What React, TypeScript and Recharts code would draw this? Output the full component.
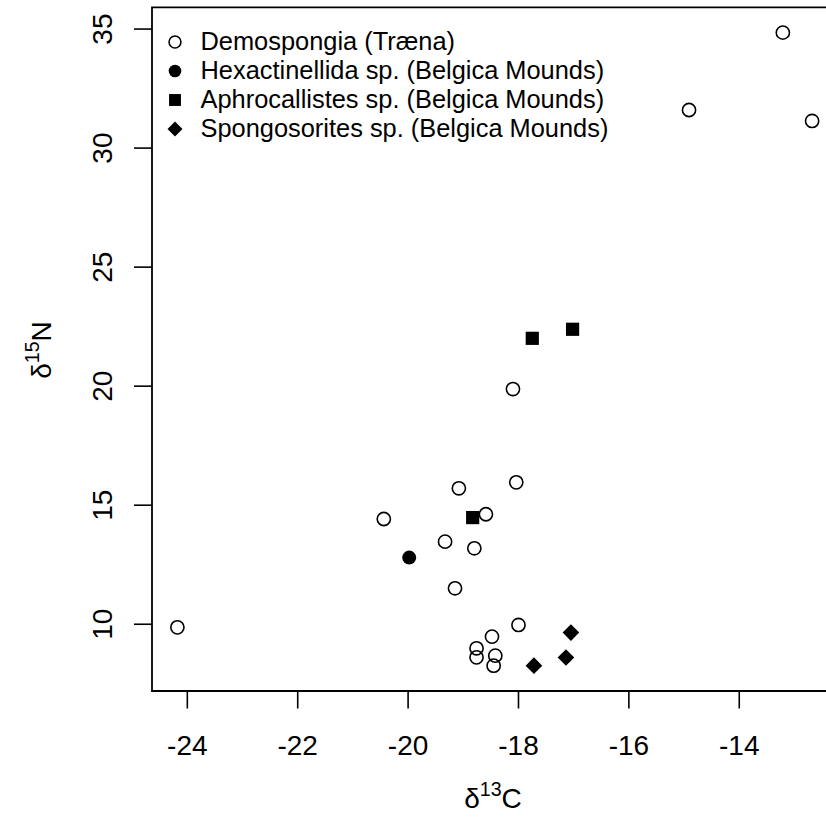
import { ScatterChart, Scatter, XAxis, YAxis, ReferenceArea } from 'recharts'

const FONT = '"Liberation Sans", Arial, Helvetica, sans-serif'

// δ13C / δ15N readings per group
const demoX = [-24.18, -20.44, -19.33, -19.08, -18.59, -18.8, -19.15, -18.1, -18.04, -18.0, -18.48, -18.76, -18.76, -18.42, -18.45, -13.21, -14.91, -12.68]
const demoY = [9.87, 14.42, 13.47, 15.71, 14.62, 13.19, 11.51, 19.88, 15.96, 9.97, 9.48, 8.99, 8.61, 8.68, 8.26, 34.85, 31.6, 31.14]
const hexaX = [-19.98]
const hexaY = [12.8]
const aphroX = [-17.75, -17.02, -18.83]
const aphroY = [22.01, 22.39, 14.48]
const spongoX = [-17.05, -17.14, -17.72]
const spongoY = [9.65, 8.6, 8.26]

const xTicks = [-24, -22, -20, -18, -16, -14]
const yTicks = [10, 15, 20, 25, 30, 35]
const X_DOMAIN: [number, number] = [-24.64, -12.22]
const Y_DOMAIN: [number, number] = [7.196, 35.914]

const legendLabels = [
  'Demospongia (Træna)',
  'Hexactinellida sp. (Belgica Mounds)',
  'Aphrocallistes sp. (Belgica Mounds)',
  'Spongosorites sp. (Belgica Mounds)',
]

const toPoints = (xs: number[], ys: number[]) => xs.map((x, i) => ({ x, y: ys[i] }))

type Kind = 'open' | 'dot' | 'square' | 'diamond'

function Marker({ kind, cx, cy, scale = 1 }: { kind: Kind; cx: number; cy: number; scale?: number }) {
  if (kind === 'open') return <circle cx={cx} cy={cy} r={6.6 * scale} fill="none" stroke="#000" strokeWidth={1.6} />
  if (kind === 'dot') return <circle cx={cx} cy={cy} r={7 * scale} fill="#000" />
  if (kind === 'square') {
    const h = 6.6 * scale
    return <rect x={cx - h} y={cy - h} width={2 * h} height={2 * h} fill="#000" />
  }
  const d = 8.3 * scale
  return <polygon points={`${cx},${cy - d} ${cx + d},${cy} ${cx},${cy + d} ${cx - d},${cy}`} fill="#000" />
}

const shapeOf = (kind: Kind) => (props: any) => <Marker kind={kind} cx={props.cx} cy={props.cy} />

const XTick = ({ x, payload }: any) => (
  <text x={x} y={755} textAnchor="middle" fontSize={28} fontFamily={FONT} fill="#000">
    {payload.value}
  </text>
)

const YTick = ({ y, payload }: any) => (
  <text transform={`translate(111.7, ${y}) rotate(-90)`} textAnchor="middle" fontSize={28} fontFamily={FONT} fill="#000">
    {payload.value}
  </text>
)

const kinds: Kind[] = ['open', 'dot', 'square', 'diamond']

export default function App() {
  return (
    <div style={{ position: 'fixed', left: 0, top: 0, width: 826, height: 829, overflow: 'hidden', background: '#fff' }}>
      <ScatterChart width={850} height={829} margin={{ top: 7.3, right: 12.5, bottom: 0, left: 0 }}>
        <XAxis
          type="number"
          dataKey="x"
          domain={X_DOMAIN}
          allowDataOverflow
          ticks={xTicks}
          interval={0}
          height={138}
          axisLine={false}
          tickSize={17.5}
          tickLine={{ stroke: '#000', strokeWidth: 1.6 }}
          tick={<XTick />}
        />
        <YAxis
          type="number"
          dataKey="y"
          domain={Y_DOMAIN}
          allowDataOverflow
          ticks={yTicks}
          interval={0}
          width={152}
          axisLine={false}
          tickSize={18}
          tickLine={{ stroke: '#000', strokeWidth: 1.6 }}
          tick={<YTick />}
        />
        <ReferenceArea
          x1={X_DOMAIN[0]}
          x2={X_DOMAIN[1]}
          y1={Y_DOMAIN[0]}
          y2={Y_DOMAIN[1]}
          fill="none"
          stroke="#000"
          strokeWidth={1.8}
          fillOpacity={0}
          ifOverflow="visible"
        />
        <Scatter name={legendLabels[0]} data={toPoints(demoX, demoY)} shape={shapeOf('open')} isAnimationActive={false} />
        <Scatter name={legendLabels[1]} data={toPoints(hexaX, hexaY)} shape={shapeOf('dot')} isAnimationActive={false} />
        <Scatter name={legendLabels[2]} data={toPoints(aphroX, aphroY)} shape={shapeOf('square')} isAnimationActive={false} />
        <Scatter name={legendLabels[3]} data={toPoints(spongoX, spongoY)} shape={shapeOf('diamond')} isAnimationActive={false} />
        <text x={493} y={808} textAnchor="middle" fontSize={28} fontFamily={FONT} fill="#000">
          δ<tspan fontSize={19.6} dy={-12}>13</tspan>
          <tspan dy={12}>C</tspan>
        </text>
        <text transform="translate(51, 350) rotate(-90)" textAnchor="middle" fontSize={28} fontFamily={FONT} fill="#000">
          δ<tspan fontSize={19.6} dy={-12}>15</tspan>
          <tspan dy={12}>N</tspan>
        </text>
      </ScatterChart>
      <div style={{ position: 'absolute', left: 160, top: 26.7, fontFamily: FONT, fontSize: 25.4, color: '#000' }}>
        {legendLabels.map((label, i) => (
          <div key={label} style={{ position: 'relative', height: 29, lineHeight: '29px', whiteSpace: 'nowrap' }}>
            <svg width={20} height={20} style={{ position: 'absolute', left: 5, top: 5.3 }}>
              <Marker kind={kinds[i]} cx={10} cy={10} scale={0.9} />
            </svg>
            <span style={{ position: 'absolute', left: 40.5 }}>{label}</span>
          </div>
        ))}
      </div>
    </div>
  )
}
